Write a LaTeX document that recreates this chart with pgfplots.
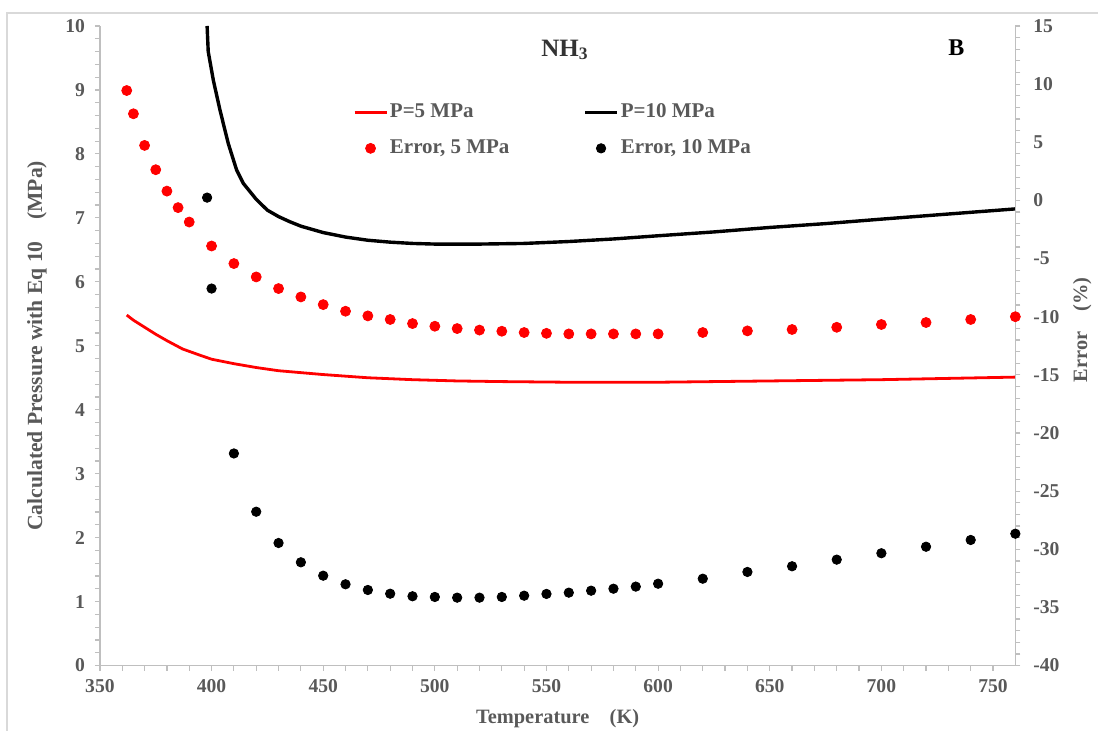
\documentclass[border=0pt]{standalone}
\usepackage{pgfplots}
\pgfplotsset{compat=1.18}
\usepackage{fontspec}
\setmainfont{Liberation Serif}

\definecolor{axgray}{HTML}{BFBFBF}
\definecolor{txtgray}{HTML}{595959}
\definecolor{frame}{HTML}{D9D9D9}

\pgfplotsset{
  twin/.style={
    width=458pt, height=320pt, scale only axis,
    xmin=350, xmax=760, clip=false,
    axis line style={axgray, line width=0.6pt},
    every tick/.style={axgray, line width=0.6pt},
    major tick length=2.5pt, minor tick length=2.5pt,
    tick label style={font=\bfseries\fontsize{9.8}{11}\selectfont, text=txtgray},
    label style={font=\bfseries\fontsize{10.2}{11}\selectfont, text=txtgray},
    /pgf/number format/assume math mode=true,
    legend image code/.code={\draw[mark repeat=2,mark phase=2,##1] plot coordinates {(0pt,0pt)(8pt,0pt)(16pt,0pt)};},
  }
}

\begin{document}
\begin{tikzpicture}
\begin{axis}[twin, name=main,
  axis x line*=bottom, axis y line*=left, tick align=outside,
  ymin=0, ymax=10, ytick distance=1, minor y tick num=4,
  xtick distance=50, minor x tick num=4,
  xlabel={Temperature\quad (K)},
  ylabel={Calculated Pressure with Eq 10\quad (MPa)},
  xlabel style={at={(axis description cs:0.5,-0.0828)}, anchor=center},
  ylabel style={at={(axis description cs:-0.0688,0.5)}, anchor=center, rotate=0,
    font=\bfseries\fontsize{10.8}{12}\selectfont},
  yticklabel style={xshift=-1.5pt},
  xticklabel style={yshift=-1pt},
]
% P = 5 MPa
\addplot[red, line width=1.4pt] coordinates {
(362,5.48) (365,5.40) (370,5.29) (375,5.18) (380,5.08) (387,4.95)
(395,4.85) (400,4.79) (410,4.72) (420,4.66) (430,4.61) (440,4.58)
(450,4.55) (470,4.50) (490,4.47) (510,4.45) (530,4.44) (560,4.43)
(600,4.43) (650,4.45) (700,4.47) (760,4.51)
};
% P = 10 MPa
\addplot[black, line width=1.7pt] coordinates {
(398,10.0) (398.5,9.6) (400.8,9.15) (403.8,8.68) (407.5,8.16)
(411.2,7.75) (414.2,7.54) (420,7.29) (425,7.12) (430,7.02) (435,6.94)
(440,6.87) (450,6.77) (460,6.70) (470,6.65) (480,6.62) (490,6.60)
(500,6.59) (520,6.59) (540,6.60) (560,6.63) (580,6.67) (600,6.72)
(625,6.78) (650,6.85) (675,6.91) (700,6.98) (730,7.06) (760,7.14)
};
\node[font=\bfseries\fontsize{12.5}{14}\selectfont, text=black!80] at (rel axis cs:0.508,0.9625) {NH\textsubscript{3}};
\node[font=\bfseries\fontsize{12}{14}\selectfont] at (rel axis cs:0.9356,0.966) {B};
\end{axis}

\begin{axis}[twin,
  axis x line=none, axis y line*=right, tick align=outside,
  ymin=-40, ymax=15, ytick distance=5, minor y tick num=4,
  ylabel={Error\quad (\%)},
  ylabel style={at={(axis description cs:1.0731,0.525)}, anchor=center, rotate=0},
  yticklabel style={xshift=3pt},
  legend columns=2,
  legend cell align=left,
  legend style={at={(axis description cs:0.2762,0.885)}, anchor=north west,
    draw=none, fill=none, inner sep=0pt, row sep=5.5pt,
    font=\bfseries\fontsize{10.5}{12}\selectfont, text=txtgray,
    nodes={inner xsep=1pt},
    /tikz/every even column/.append style={column sep=36pt}},
]
\addlegendimage{red, line width=1.4pt}
\addlegendentry{P=5 MPa}
\addlegendimage{black, line width=1.7pt}
\addlegendentry{P=10 MPa}
% Error, 5 MPa
\addplot[only marks, mark=*, mark size=2.5pt, color=red] coordinates {
(362,9.45) (365,7.45) (370,4.73) (375,2.64) (380,0.80) (385,-0.62)
(390,-1.86) (400,-3.92) (410,-5.43) (420,-6.58) (430,-7.58) (440,-8.30)
(450,-8.96) (460,-9.53) (470,-9.93) (480,-10.24) (490,-10.59) (500,-10.82)
(510,-11.02) (520,-11.15) (530,-11.25) (540,-11.36) (550,-11.43) (560,-11.48)
(570,-11.48) (580,-11.48) (590,-11.48) (600,-11.48) (620,-11.36) (640,-11.22)
(660,-11.10) (680,-10.91) (700,-10.67) (720,-10.50) (740,-10.24) (760,-10.00)
};
\addlegendentry{Error, 5 MPa}
% Error, 10 MPa
\addplot[only marks, mark=*, mark size=2.35pt, color=black] coordinates {
(398,0.24) (400,-7.58) (410,-21.76) (420,-26.77) (430,-29.46) (440,-31.12)
(450,-32.27) (460,-33.01) (470,-33.50) (480,-33.82) (490,-34.04) (500,-34.10)
(510,-34.16) (520,-34.16) (530,-34.10) (540,-33.99) (550,-33.84) (560,-33.73)
(570,-33.56) (580,-33.39) (590,-33.21) (600,-32.96) (620,-32.53) (640,-31.95)
(660,-31.46) (680,-30.89) (700,-30.34) (720,-29.78) (740,-29.20) (760,-28.66)
};
\addlegendentry{Error, 10 MPa}
\end{axis}

\draw[frame, line width=0.7pt] (main.south west) ++(-46.5pt,-32.5pt) -- ++(0,359pt) -- ++(546pt,0);
\path (main.south west) ++(-50pt,-32.5pt) rectangle ++(549.5pt,365.5pt);
\end{tikzpicture}
\end{document}
